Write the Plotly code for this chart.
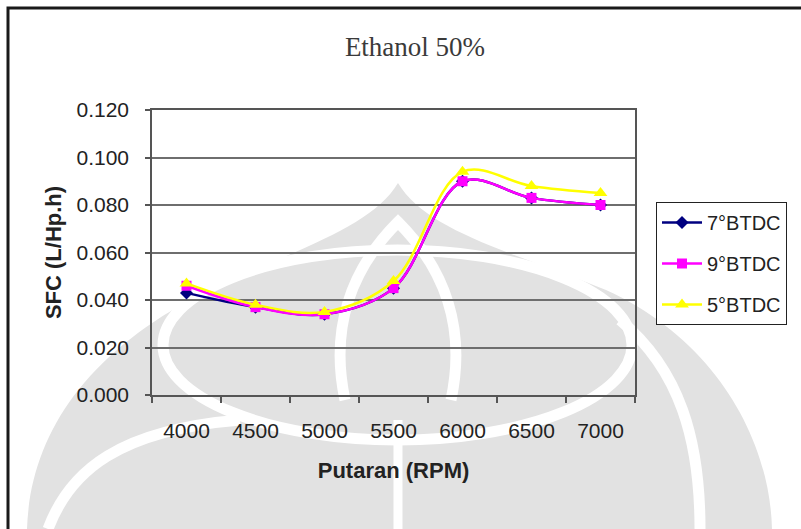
import plotly.graph_objects as go

# Engine speed categories and specific fuel consumption per ignition timing
rpm = ["4000", "4500", "5000", "5500", "6000", "6500", "7000"]
sfc_7btdc = [0.043, 0.037, 0.034, 0.045, 0.090, 0.083, 0.080]
sfc_9btdc = [0.046, 0.037, 0.034, 0.045, 0.090, 0.083, 0.080]
sfc_5btdc = [0.047, 0.038, 0.035, 0.048, 0.094, 0.088, 0.085]

series_names = ["7°BTDC", "9°BTDC", "5°BTDC"]
series_values = [sfc_7btdc, sfc_9btdc, sfc_5btdc]
series_colors = ["#000080", "#FF00FF", "#FFFF00"]
series_symbols = ["diamond", "square", "triangle-up"]
series_sizes = [10, 10, 12]

W, H = 801, 529
L, R, T, B = 152, 166, 110, 134
PW, PH = W - L - R, H - T - B


def px(x, y):
    """Pixel position -> paper coordinates."""
    return (x - L) / PW, (H - B - y) / PH


def path(cmds):
    out = []
    for c in cmds:
        if isinstance(c, str):
            out.append(c)
        else:
            xx, yy = px(*c)
            out.append(f"{xx:.4f},{yy:.4f}")
    return " ".join(out)


fig = go.Figure()
for name, vals, col, sym, sz in zip(series_names, series_values, series_colors,
                                    series_symbols, series_sizes):
    fig.add_trace(go.Scatter(
        x=rpm, y=vals, name=name, legendgroup=name,
        mode="lines+markers",
        line=dict(color=col, width=2.5, shape="spline", smoothing=1.0),
        marker=dict(symbol=sym, size=sz, color=col),
    ))

shade = "#e2e2e2"
shapes = []
# faint emblem watermark behind the chart
shapes.append(dict(
    type="path", xref="paper", yref="paper", layer="below",
    path=path(["M", (27, 529), "C", (30, 440), (80, 360), (190, 300),
               "C", (290, 250), (370, 230), (398, 183),
               "C", (426, 230), (506, 250), (606, 290),
               "C", (716, 340), (770, 440), (772, 529), "Z"]),
    fillcolor=shade, line=dict(width=0),
))
# inner ring
rx0, ry0 = px(163, 250)
rx1, ry1 = px(632, 440)
shapes.append(dict(type="circle", xref="paper", yref="paper", layer="below",
                   x0=rx0, x1=rx1, y0=ry1, y1=ry0,
                   line=dict(color="white", width=11), fillcolor="rgba(0,0,0,0)"))
# inner dome outline
shapes.append(dict(
    type="path", xref="paper", yref="paper", layer="below",
    path=path(["M", (345, 400), "C", (330, 330), (350, 270), (398, 222),
               "C", (446, 270), (466, 330), (451, 400)]),
    line=dict(color="white", width=11),
))
# outer swept bands
shapes.append(dict(
    type="path", xref="paper", yref="paper", layer="below",
    path=path(["M", (48, 529), "C", (70, 470), (120, 430), (240, 420)]),
    line=dict(color="white", width=11),
))
shapes.append(dict(
    type="path", xref="paper", yref="paper", layer="below",
    path=path(["M", (700, 529), "C", (700, 440), (680, 370), (620, 320)]),
    line=dict(color="white", width=11),
))
shapes.append(dict(
    type="path", xref="paper", yref="paper", layer="below",
    path=path(["M", (398, 420), "L", (398, 529)]),
    line=dict(color="white", width=9),
))
# chart frame
fx0, fy0 = px(8, 8)
fx1, fy1 = px(815, 545)
shapes.append(dict(type="rect", xref="paper", yref="paper", layer="above",
                   x0=fx0, x1=fx1, y0=fy1, y1=fy0,
                   line=dict(color="#1a1a1a", width=3)))

axis_font = dict(family="Liberation Sans, Arial, sans-serif", size=21, color="#222222")
title_font = dict(family="Liberation Sans, Arial, sans-serif", size=22, color="#222222")

fig.update_layout(
    width=W, height=H,
    margin=dict(l=L, r=R, t=T, b=B),
    paper_bgcolor="white",
    plot_bgcolor="rgba(0,0,0,0)",
    title=dict(text="Ethanol 50%", x=415 / W, xref="container", xanchor="center",
               y=1 - 47 / H, yref="container", yanchor="middle",
               font=dict(family="Liberation Serif, Times New Roman, serif",
                         size=27, color="#3a3a3a")),
    shapes=shapes,
    showlegend=True,
    legend=dict(x=px(656, 0)[0], y=px(0, 202)[1], xanchor="left", yanchor="top",
                bgcolor="white", bordercolor="#222222", borderwidth=1,
                font=dict(family="Liberation Sans, Arial, sans-serif", size=20,
                          color="#222222"),
                itemwidth=40,
                tracegroupgap=12, traceorder="grouped"),
    xaxis=dict(type="category", range=[-0.5, 6.5], tickson="boundaries",
               ticks="outside", ticklen=6, tickwidth=1.5, tickcolor="#555555",
               showline=True, linecolor="#555555", linewidth=1.5, mirror=True,
               showgrid=False, tickfont=axis_font, ticklabelstandoff=16,
               title=dict(text="<b>Putaran (RPM)</b>", font=title_font, standoff=22)),
    yaxis=dict(range=[0, 0.12], dtick=0.02, tickformat=".3f",
               ticks="outside", ticklen=5, tickwidth=1.5, tickcolor="#555555",
               showline=True, linecolor="#555555", linewidth=1.5, mirror=True,
               showgrid=True, gridcolor="#6e6e6e", gridwidth=1.5, zeroline=False,
               tickfont=axis_font, ticklabelstandoff=12,
               title=dict(text="<b>SFC (L/Hp.h)</b>", font=title_font, standoff=9)),
)

fig.write_html("out.html")
